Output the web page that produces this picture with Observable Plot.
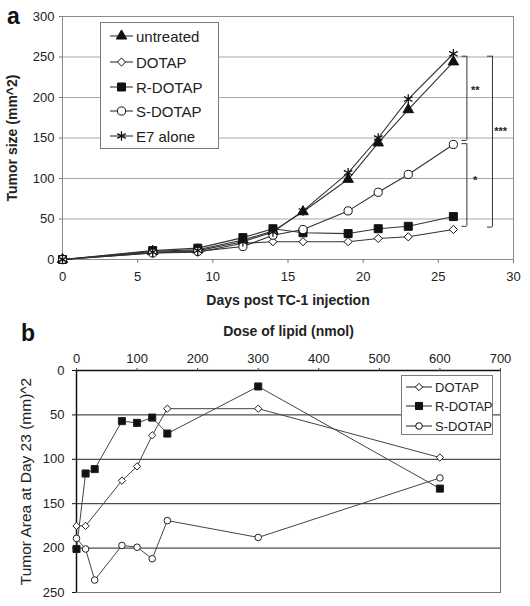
<!DOCTYPE html>
<html><head><meta charset="utf-8">
<script src="https://cdn.jsdelivr.net/npm/d3@7"></script>
<script src="https://cdn.jsdelivr.net/npm/@observablehq/plot@0.6"></script>
<style>
body{margin:0;background:#fff;font-family:"Liberation Sans",Arial,sans-serif;}
#fig{position:relative;width:530px;height:606px;overflow:hidden;background:#fff;}
.panel{position:absolute;left:0;}
.plabel{position:absolute;font-weight:bold;font-size:23px;line-height:1;color:#111;}
.legend{position:absolute;background:#fff;border:1px solid #7a7a7a;box-sizing:border-box;}
.legend .row{position:absolute;left:0;display:flex;align-items:center;color:#222;white-space:nowrap;}
.legend svg{display:block;}
#pa g[aria-label="x-axis label"] text,#pa g[aria-label="y-axis label"] text{font-weight:bold;font-size:14px;}
#pb g[aria-label="x-axis label"] text{font-weight:bold;font-size:14px;}
#pb g[aria-label="y-axis label"] text{font-size:15.5px;}
</style>
</head><body><div id="fig"></div>
<script>
// ---------- Panel a data ----------
const days = [0, 6, 9, 12, 14, 16, 19, 21, 23, 26];
const untreated = [0, 10, 12, 24, 35, 59, 99, 144, 185, 244];
const dotapA = [0, 8, 9, 20, 22, 22, 22, 26, 28, 37];
const rdotapA = [0, 11, 14, 27, 38, 33, 32, 38, 41, 53];
const sdotapA = [0, 8, 10, 16, 30, 37, 60, 83, 105, 142];
const e7alone = [0, 9, 11, 22, 34, 60, 107, 150, 198, 254];
const seriesA = ["untreated", "DOTAP", "R-DOTAP", "S-DOTAP", "E7 alone"];
const xTicksA = [0, 5, 10, 15, 20, 25, 30];
const yTicksA = [0, 50, 100, 150, 200, 250, 300];
// significance brackets (day position, size range, star label)
const bracketX = [26.9, 26.9, 28.6];
const bracketLow = [147, 41, 40];
const bracketHigh = [251, 143, 251];
const bracketStars = ["**", "*", "***"];
const bracketLabelY = [209, 97, 158];

// ---------- Panel b data ----------
const doseDOTAP = [0, 15, 75, 100, 125, 150, 300, 600];
const areaDOTAP = [175, 175, 124, 108, 73, 43, 43, 98];
const doseRDOTAP = [0, 15, 30, 75, 100, 125, 150, 300, 600];
const areaRDOTAP = [201, 116, 111, 57, 59, 53, 71, 18, 133];
const doseSDOTAP = [0, 15, 30, 75, 100, 125, 150, 300, 600];
const areaSDOTAP = [189, 201, 236, 197, 199, 212, 169, 188, 121];
const seriesB = ["DOTAP", "R-DOTAP", "S-DOTAP"];
const xTicksB = [0, 100, 200, 300, 400, 500, 600, 700];
const yTicksB = [0, 50, 100, 150, 200, 250];

// ---------- styles ----------
const sym = {"untreated": "triangle", "DOTAP": "diamond2", "R-DOTAP": "square", "S-DOTAP": "circle", "E7 alone": "asterisk"};
const d3sym = {"untreated": d3.symbolTriangle, "DOTAP": d3.symbolDiamond2, "R-DOTAP": d3.symbolSquare, "S-DOTAP": d3.symbolCircle, "E7 alone": d3.symbolAsterisk};
const fillOf = {"untreated": "#111", "DOTAP": "#fff", "R-DOTAP": "#111", "S-DOTAP": "#fff", "E7 alone": "none"};
const rA = {"untreated": 3.9, "DOTAP": 3.7, "R-DOTAP": 4.5, "S-DOTAP": 4.1, "E7 alone": 4.6};
const rB = {"DOTAP": 3.3, "R-DOTAP": 4, "S-DOTAP": 3.3};

const valuesA = [untreated, dotapA, rdotapA, sdotapA, e7alone];
const rowsA = seriesA.flatMap((s, i) => days.map((d, j) => ({series: s, day: d, size: valuesA[i][j]})));
const rowsB = [
  ...doseDOTAP.map((d, j) => ({series: "DOTAP", dose: d, area: areaDOTAP[j]})),
  ...doseRDOTAP.map((d, j) => ({series: "R-DOTAP", dose: d, area: areaRDOTAP[j]})),
  ...doseSDOTAP.map((d, j) => ({series: "S-DOTAP", dose: d, area: areaSDOTAP[j]}))
];
const brackets = bracketX.map((x, i) => ({x, lo: bracketLow[i], hi: bracketHigh[i], star: bracketStars[i], ly: bracketLabelY[i]}));

const font = "'Liberation Sans', Arial, sans-serif";
const fig = document.getElementById("fig");

// ---------- Panel a ----------
const marksA = [
  Plot.gridY(yTicksA.filter(v => v > 0 && v < 300), {stroke: "#a8a8a8", strokeOpacity: 1}),
  Plot.frame({stroke: "#8c8c8c"}),
  Plot.axisX(xTicksA, {tickSize: 4, tickPadding: 8, stroke: "#777", fill: "#222", label: "Days post TC-1 injection", labelAnchor: "center", labelArrow: "none", labelOffset: 45}),
  Plot.axisY(yTicksA, {tickSize: 3, tickPadding: 5, stroke: "#777", fill: "#222", label: "Tumor size (mm^2)", labelAnchor: "center", labelArrow: "none", labelOffset: 55})
];
for (const s of seriesA) {
  marksA.push(Plot.line(rowsA.filter(d => d.series === s), {x: "day", y: "size", stroke: "#333", strokeWidth: 1.1}));
}
for (const s of seriesA) {
  marksA.push(Plot.dot(rowsA.filter(d => d.series === s), {x: "day", y: "size", symbol: sym[s], r: rA[s], fill: fillOf[s], stroke: "#111", strokeWidth: s === "E7 alone" ? 1.3 : 1}));
}
marksA.push(
  Plot.ruleX(brackets, {x: "x", y1: "lo", y2: "hi", stroke: "#333", strokeWidth: 1}),
  Plot.ruleY(brackets, {y: "lo", x1: d => d.x - 0.33, x2: "x", stroke: "#333", strokeWidth: 1}),
  Plot.ruleY(brackets, {y: "hi", x1: d => d.x - 0.33, x2: "x", stroke: "#333", strokeWidth: 1}),
  Plot.text(brackets, {x: d => d.x + 0.55, y: "ly", text: "star", fontSize: 11, fontWeight: "bold", fill: "#222"})
);
const plotA = Plot.plot({
  width: 530, height: 318,
  marginLeft: 62, marginRight: 17, marginTop: 16, marginBottom: 59,
  style: {fontFamily: font, fontSize: "13px", background: "transparent", overflow: "visible"},
  x: {domain: [0, 30]},
  y: {domain: [0, 300]},
  marks: marksA
});
const pa = document.createElement("div");
pa.id = "pa"; pa.className = "panel"; pa.style.top = "0px";
pa.appendChild(plotA);
fig.appendChild(pa);

// ---------- Panel b ----------
const marksB = [
  Plot.gridY([50, 100, 150, 200], {stroke: "#222", strokeOpacity: 1, strokeWidth: 1}),
  Plot.frame({stroke: "#777"}),
  Plot.ruleY([0], {stroke: "#111", strokeWidth: 1.5}),
  Plot.ruleX([0], {stroke: "#111", strokeWidth: 1.5}),
  Plot.axisX(xTicksB, {anchor: "top", tickSize: 3, tickPadding: 5, stroke: "#444", fill: "#222", label: "Dose of lipid (nmol)", labelAnchor: "center", labelArrow: "none", labelOffset: 44}),
  Plot.axisY(yTicksB, {tickSize: 4, tickPadding: 8, stroke: "#111", fill: "#222", label: "Tumor Area at Day 23 (mm)^2", labelAnchor: "center", labelArrow: "none", labelOffset: 57})
];
for (const s of seriesB) {
  marksB.push(Plot.line(rowsB.filter(d => d.series === s), {x: "dose", y: "area", stroke: "#444", strokeWidth: 1}));
}
for (const s of seriesB) {
  marksB.push(Plot.dot(rowsB.filter(d => d.series === s), {x: "dose", y: "area", symbol: sym[s], r: rB[s], fill: fillOf[s], stroke: "#222", strokeWidth: 1}));
}
const plotB = Plot.plot({
  width: 530, height: 301,
  marginLeft: 76, marginRight: 30, marginTop: 65, marginBottom: 14,
  style: {fontFamily: font, fontSize: "13px", background: "transparent", overflow: "visible"},
  x: {domain: [0, 700]},
  y: {domain: [0, 250], reverse: true},
  marks: marksB
});
const pb = document.createElement("div");
pb.id = "pb"; pb.className = "panel"; pb.style.top = "305px";
pb.appendChild(plotB);
fig.appendChild(pb);

// ---------- panel letters ----------
function letter(t, left, top) {
  const d = document.createElement("div");
  d.className = "plabel"; d.textContent = t;
  d.style.left = left + "px"; d.style.top = top + "px";
  fig.appendChild(d);
}
letter("a", 7, 5);
letter("b", 21, 322);

// ---------- legends ----------
function legend(series, box, rows, sample, fontSize, radii, fills) {
  const lg = document.createElement("div");
  lg.className = "legend";
  Object.assign(lg.style, {left: box.x + "px", top: box.y + "px", width: box.w + "px", height: box.h + "px"});
  series.forEach((s, i) => {
    const row = document.createElement("div");
    row.className = "row";
    row.style.top = (rows[i] - 9) + "px";
    row.style.height = "18px";
    row.style.fontSize = fontSize + "px";
    const svg = d3.create("svg").attr("width", sample.end + 3).attr("height", 18);
    svg.append("line").attr("x1", sample.start).attr("x2", sample.end).attr("y1", 9).attr("y2", 9).attr("stroke", "#333").attr("stroke-width", 1.1);
    const area = Math.PI * radii[s] * radii[s];
    svg.append("path").attr("d", d3.symbol(d3sym[s], area)())
      .attr("transform", `translate(${(sample.start + sample.end) / 2},9)`)
      .attr("fill", fills[s]).attr("stroke", "#111").attr("stroke-width", s === "E7 alone" ? 1.3 : 1);
    row.appendChild(svg.node());
    const span = document.createElement("span");
    span.textContent = s;
    row.appendChild(span);
    lg.appendChild(row);
  });
  fig.appendChild(lg);
}
legend(seriesA, {x: 100, y: 22, w: 119, h: 127}, [13, 39, 64, 88, 113], {start: 9, end: 32}, 15, rA, fillOf);
legend(seriesB, {x: 401, y: 375, w: 92, h: 60}, [11, 30, 50], {start: 4, end: 30}, 13, rB, fillOf);
</script>
</body></html>
